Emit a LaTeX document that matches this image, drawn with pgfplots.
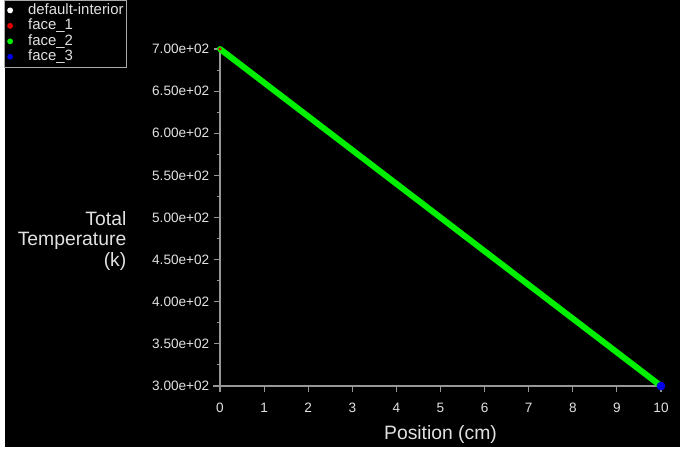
\documentclass[border=0pt]{standalone}
\usepackage{pgfplots}
\pgfplotsset{compat=1.18}
\usepackage{fontspec}
\setmainfont{Liberation Sans}
\definecolor{txt}{RGB}{225,225,225}
\definecolor{axg}{RGB}{150,150,150}
\definecolor{lgb}{RGB}{170,170,170}
\definecolor{fgreen}{RGB}{0,240,0}
\definecolor{fred}{RGB}{230,0,0}
\definecolor{fblue}{RGB}{0,0,235}
\begin{document}
\begin{tikzpicture}
\useasboundingbox (0,0) rectangle (510pt,337.5pt);
\fill[white] (0,0) rectangle (510pt,337.5pt);
\fill[black] (3.75pt,2.25pt) rectangle (510pt,337.5pt);
\begin{axis}[
  at={(165pt,48pt)}, anchor=south west,
  scale only axis, width=330.75pt, height=252.75pt,
  xmin=0, xmax=10, ymin=300, ymax=700,
  clip=false,
  axis lines=left, separate axis lines,
  x axis line style={-, draw=axg, line width=0.8pt, shorten <=-5.25pt},
  y axis line style={-, draw=axg, line width=0.8pt, shorten <=-3pt},
  tick align=outside, tick style={axg, line width=0.8pt},
  major tick length=4.5pt, minor tick length=2.5pt,
  xtick={0,1,2,3,4,5,6,7,8,9,10},
  xticklabels={0,1,2,3,4,5,6,7,8,9,10},
  ytick={300,350,400,450,500,550,600,650,700},
  yticklabels={3.00e+02,3.50e+02,4.00e+02,4.50e+02,5.00e+02,5.50e+02,6.00e+02,6.50e+02,7.00e+02},
  minor y tick num=1,
  ticklabel style={font=\fontsize{10.2}{12}\selectfont, text=txt},
  xticklabel style={yshift=-5pt},
  xlabel={Position (cm)},
  every axis x label/.style={at={(axis description cs:0.5,-0.1602)}, anchor=base, font=\fontsize{14.5}{16}\selectfont, text=txt},
  ylabel={Total\\Temperature\\(k)},
  every axis y label/.style={at={(axis description cs:-0.2018,0.4303)}, anchor=east, align=right, font=\fontsize{14.5}{15.5}\selectfont, text=txt},
  legend style={at={(axis description cs:-0.4898,1.147)}, anchor=north west, draw=lgb, line width=0.8pt, fill=black, text=txt,
    font=\fontsize{11.2}{12}\selectfont, inner sep=2pt, row sep=0pt, column sep=11pt,
    nodes={inner sep=0.3pt, text height=8.6pt, text depth=2.4pt}},
  legend cell align=left,
]
\addplot[white, line width=1pt,
  legend image code/.code={\path[fill=white, draw=none] (0.6pt,0pt) circle (2.2pt);}]
  coordinates {(0,700) (1,660) (2,620) (3,580) (4,540) (5,500) (6,460) (7,420) (8,380) (9,340) (10,300)};
\addlegendentry{default-interior}
\addplot[only marks, mark=*, fred, mark size=1pt,
  legend image code/.code={\path[fill=fred, draw=none] (0.6pt,0pt) circle (2.2pt);}]
  coordinates {(0,700)};
\addlegendentry{face\_1}
\addplot[fgreen, line width=4.5pt, line cap=round,
  legend image code/.code={\path[fill=fgreen, draw=none] (0.6pt,0pt) circle (2.2pt);}]
  coordinates {(0,700) (1,660) (2,620) (3,580) (4,540) (5,500) (6,460) (7,420) (8,380) (9,340) (10,300)};
\addlegendentry{face\_2}
\addplot[only marks, mark=*, fblue, mark size=3pt,
  legend image code/.code={\path[fill=fblue, draw=none] (0.6pt,0pt) circle (2.2pt);}]
  coordinates {(10,300)};
\addlegendentry{face\_3}
\end{axis}
\end{tikzpicture}
\end{document}
